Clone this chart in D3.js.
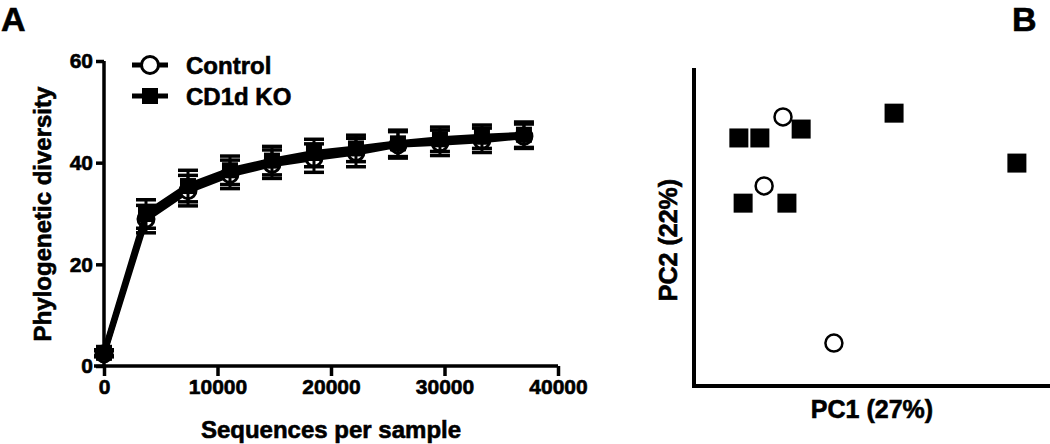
<!DOCTYPE html>
<html>
<head>
<meta charset="utf-8">
<script src="https://cdn.jsdelivr.net/npm/d3@7"></script>
<style>
  body { margin: 0; background: #fff; }
  svg { display: block; font-family: "Liberation Sans", Arial, sans-serif; font-weight: bold; }
  svg text { stroke: #000; stroke-width: 0.6px; }
</style>
</head>
<body>
<div class="visHolder"></div>
<script>
// panel A: rarefaction curve
const depths = [0, 3700, 7400, 11100, 14800, 18500, 22200, 25900, 29600, 33300, 37000];
const controlMean = [2.4, 28.9, 34.5, 37.7, 39.7, 40.9, 42.0, 43.5, 43.9, 44.4, 45.2];
const controlErr = [0.6, 2.7, 3.0, 2.8, 2.8, 2.8, 2.8, 2.6, 2.5, 2.4, 2.4];
const koMean = [2.6, 29.9, 35.4, 38.5, 40.4, 41.9, 42.8, 43.8, 44.6, 45.1, 45.5];
const koErr = [0.6, 2.8, 3.1, 2.8, 2.8, 2.7, 2.6, 2.6, 2.4, 2.3, 2.5];
const xTicks = [0, 10000, 20000, 30000, 40000];
const yTicks = [0, 20, 40, 60];

// panel B: PCoA
const controlPC1 = [25.0, 19.7, 39.3];
const controlPC2 = [84.6, 62.9, 13.5];
const koPC1 = [12.6, 18.5, 30.1, 56.2, 90.7, 13.8, 26.1];
const koPC2 = [78.0, 78.0, 80.8, 85.8, 70.1, 57.5, 57.5];

const width = 1050, height = 444;
const svg = d3.select(".visHolder").append("svg")
   .attr("width", width)
   .attr("height", height);

// panel letters
svg.append("text").attr("x", 1).attr("y", 31).attr("font-size", 34).text("A");
svg.append("text").attr("x", 1012).attr("y", 31).attr("font-size", 34).text("B");

const x = d3.scaleLinear().domain([0, 40000]).range([104, 558]);
const y = d3.scaleLinear().domain([0, 60]).range([366, 61]);

const xAxis = d3.axisBottom(x).tickValues(xTicks).tickSize(10).tickSizeOuter(0).tickPadding(3).tickFormat(d3.format("d"));
const yAxis = d3.axisLeft(y).tickValues(yTicks).tickSize(8).tickSizeOuter(0).tickPadding(3);

const gx = svg.append("g").attr("transform", "translate(0,366)").call(xAxis);
const gy = svg.append("g").attr("transform", "translate(104,0)").call(yAxis);
[gx, gy].forEach(g => {
   g.attr("font-size", null).attr("font-family", null);
   g.select(".domain").attr("stroke", "#000").attr("stroke-width", 3.5);
   g.selectAll(".tick line").attr("stroke", "#000").attr("stroke-width", 3.5);
   g.selectAll(".tick text").attr("fill", "#000")
      .style("font-size", "21px")
      .style("font-family", "'Liberation Sans', Arial, sans-serif")
      .style("font-weight", "bold");
});
// extend x axis a bit left like the original
gx.select(".domain").attr("d", "M" + (x(0) - 10) + ",0H" + x(40000));
gy.select(".domain").attr("d", "M0," + y(60) + "V" + (y(0) + 1.5));

svg.append("text")
   .attr("transform", "translate(51,214) rotate(-90)")
   .attr("text-anchor", "middle")
   .attr("font-size", 24)
   .text("Phylogenetic diversity");
svg.append("text")
   .attr("x", 331).attr("y", 438)
   .attr("text-anchor", "middle")
   .attr("font-size", 24)
   .text("Sequences per sample");

const line = d3.line().x(d => x(d.x)).y(d => y(d.m));

function drawSeries(means, errs, kind) {
   const data = depths.map((d, i) => ({ x: d, m: means[i], e: errs[i] }));
   svg.append("path").datum(data)
      .attr("d", line)
      .attr("fill", "none")
      .attr("stroke", "#000")
      .attr("stroke-width", 6)
      .attr("stroke-linejoin", "round");
   const eb = svg.append("g").selectAll("g").data(data).enter().append("g");
   eb.append("line")
      .attr("x1", d => x(d.x)).attr("x2", d => x(d.x))
      .attr("y1", d => y(d.m - d.e)).attr("y2", d => y(d.m + d.e))
      .attr("stroke", "#000").attr("stroke-width", 3);
   [-1, 1].forEach(s => {
      eb.append("line")
         .attr("x1", d => x(d.x) - 10).attr("x2", d => x(d.x) + 10)
         .attr("y1", d => y(d.m + s * d.e)).attr("y2", d => y(d.m + s * d.e))
         .attr("stroke", "#000").attr("stroke-width", 3.5);
   });
   if (kind === "circle") {
      svg.append("g").selectAll("circle").data(data).enter().append("circle")
         .attr("cx", d => x(d.x)).attr("cy", d => y(d.m)).attr("r", 8)
         .attr("fill", "#fff").attr("stroke", "#000").attr("stroke-width", 3);
   } else {
      svg.append("g").selectAll("rect").data(data).enter().append("rect")
         .attr("x", d => x(d.x) - 8).attr("y", d => y(d.m) - 8)
         .attr("width", 16).attr("height", 16)
         .attr("fill", "#000");
   }
}
drawSeries(controlMean, controlErr, "circle");
drawSeries(koMean, koErr, "square");

// legend
const legend = svg.append("g");
[["Control", "circle", 65], ["CD1d KO", "square", 96]].forEach(([label, kind, ly]) => {
   legend.append("line").attr("x1", 132).attr("x2", 168).attr("y1", ly).attr("y2", ly)
      .attr("stroke", "#000").attr("stroke-width", 5);
   if (kind === "circle") {
      legend.append("circle").attr("cx", 150).attr("cy", ly).attr("r", 8.5)
         .attr("fill", "#fff").attr("stroke", "#000").attr("stroke-width", 3);
   } else {
      legend.append("rect").attr("x", 142).attr("y", ly - 8).attr("width", 16).attr("height", 16).attr("fill", "#000");
   }
   legend.append("text").attr("x", 186).attr("y", ly + 8.5).attr("font-size", 24).text(label);
});

// panel B
const px = d3.scaleLinear().domain([0, 100]).range([694, 1050]);
const py = d3.scaleLinear().domain([0, 100]).range([386, 68]);
svg.append("path")
   .attr("d", "M" + px(0) + "," + py(100) + "V" + py(0) + "H" + px(100))
   .attr("fill", "none").attr("stroke", "#000").attr("stroke-width", 4);

svg.append("g").selectAll("rect").data(koPC1).enter().append("rect")
   .attr("x", (d, i) => px(d) - 9.5).attr("y", (d, i) => py(koPC2[i]) - 9.5)
   .attr("width", 19).attr("height", 19).attr("fill", "#000");
svg.append("g").selectAll("circle").data(controlPC1).enter().append("circle")
   .attr("cx", (d, i) => px(d)).attr("cy", (d, i) => py(controlPC2[i])).attr("r", 8.5)
   .attr("fill", "#fff").attr("stroke", "#000").attr("stroke-width", 2.5);

svg.append("text")
   .attr("x", 872).attr("y", 418)
   .attr("text-anchor", "middle").attr("font-size", 25)
   .text("PC1 (27%)");
svg.append("text")
   .attr("transform", "translate(677,240) rotate(-90)")
   .attr("text-anchor", "middle").attr("font-size", 25)
   .text("PC2 (22%)");
</script>
</body>
</html>
